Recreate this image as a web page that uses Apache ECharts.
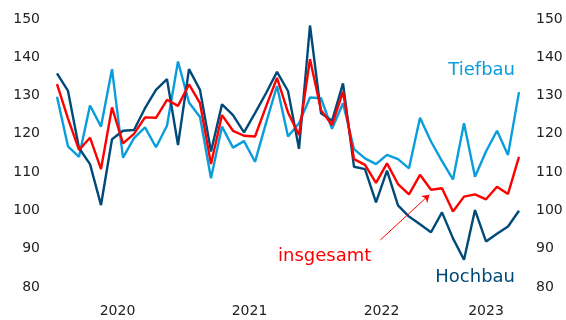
<!DOCTYPE html>
<html>
<head>
<meta charset="utf-8">
<script src="https://cdn.jsdelivr.net/npm/echarts@6/dist/echarts.min.js"></script>
<style>html,body{margin:0;padding:0;background:#fff}#c{width:566px;height:320px}</style>
</head>
<body>
<div id="c"></div>
<script>
// Monthly index, Jan 2020 – Jul 2023 (month index 0..42)
const yearLabels = { 5.5: '2020', 17.5: '2021', 29.5: '2022', 39: '2023' };
const yTicks = [80, 90, 100, 110, 120, 130, 140, 150];
const hochbau = [135.8,131.2,116.3,112.1,101.4,118.6,120.8,121.0,126.7,131.5,134.3,117.1,136.9,131.5,115.4,127.7,124.9,120.4,125.4,130.6,136.2,131.2,116.1,148.3,125.4,123.4,133.2,111.4,110.8,102.1,110.4,101.3,98.4,96.4,94.3,99.5,92.7,87.1,100.1,91.9,93.9,95.8,99.9];
const insgesamt = [133.0,124.0,115.8,119.0,110.8,126.9,117.5,120.0,124.3,124.2,128.9,127.3,132.9,128.0,112.1,124.9,120.8,119.5,119.3,127.1,134.6,125.6,119.7,139.5,126.2,122.3,131.0,113.4,111.9,107.2,112.3,106.9,104.2,109.3,105.4,105.8,99.7,103.6,104.2,102.9,106.2,104.3,114.0];
const tiefbau = [129.7,116.7,114.0,127.4,121.9,136.9,113.8,118.9,121.7,116.5,122.1,138.9,128.2,124.4,108.4,121.9,116.4,118.1,112.7,122.8,132.5,119.3,122.8,129.5,129.3,121.3,128.0,116.0,113.6,112.1,114.5,113.4,111.0,124.2,118.0,112.9,108.1,122.8,108.8,115.4,120.8,114.5,130.9];
const arrowFrom = [29.4, 92.3];
const arrowTo = [33.85, 104.1];

const toPairs = a => a.map((v, i) => [i, v]);
const C_LIGHT = '#0a9ddb', C_DARK = '#004a7a', C_RED = '#ff0000';
const FONT = 'DejaVu Sans';

const chart = echarts.init(document.getElementById('c'));
const yAxisBase = {
  type: 'value', min: yTicks[0], max: yTicks[yTicks.length - 1], interval: 10,
  axisLine: { show: false }, axisTick: { show: false }, splitLine: { show: false },
  axisLabel: { color: '#222', fontSize: 14, fontFamily: FONT, margin: 17 }
};
chart.setOption({
  animation: false,
  grid: { left: 57, right: 47, top: 19, bottom: 33 },
  xAxis: {
    type: 'value', min: 0, max: 42, interval: 0.5,
    axisLine: { show: false }, axisTick: { show: false }, splitLine: { show: false },
    axisLabel: { color: '#222', fontSize: 14, fontFamily: FONT, margin: 17,
      formatter: v => yearLabels[v] || '' }
  },
  yAxis: [Object.assign({ position: 'left' }, yAxisBase), Object.assign({ position: 'right' }, yAxisBase)],
  series: [
    { type: 'line', data: toPairs(tiefbau), showSymbol: false, lineStyle: { color: C_LIGHT, width: 2.4 }, itemStyle: { color: C_LIGHT } },
    { type: 'line', data: toPairs(hochbau), showSymbol: false, lineStyle: { color: C_DARK, width: 2.4 }, itemStyle: { color: C_DARK } },
    { type: 'line', data: toPairs(insgesamt), showSymbol: false, lineStyle: { color: C_RED, width: 2.4 }, itemStyle: { color: C_RED },
      markLine: { silent: true, symbol: ['none', 'arrow'], symbolSize: 7, label: { show: false },
        lineStyle: { color: C_RED, width: 1, type: 'solid' },
        data: [[{ coord: arrowFrom }, { coord: arrowTo }]] } }
  ],
  graphic: [
    { type: 'text', right: 51, top: 61, style: { text: 'Tiefbau', fill: C_LIGHT, font: '18px "DejaVu Sans"' } },
    { type: 'text', right: 51, top: 268, style: { text: 'Hochbau', fill: C_DARK, font: '18px "DejaVu Sans"' } },
    { type: 'text', left: 278, top: 247, style: { text: 'insgesamt', fill: C_RED, font: '18px "DejaVu Sans"' } }
  ]
});
</script>
</body>
</html>
